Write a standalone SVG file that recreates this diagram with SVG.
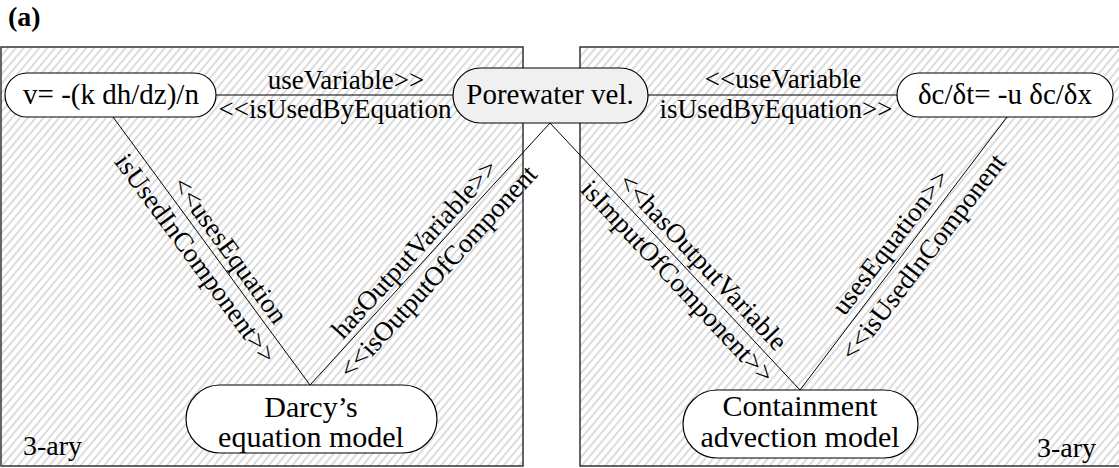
<svg xmlns="http://www.w3.org/2000/svg" width="1119" height="468" viewBox="0 0 1119 468">
<defs>
<pattern id="hatch" width="6" height="6" patternUnits="userSpaceOnUse" patternTransform="rotate(40)">
<rect width="6" height="6" fill="#fff"/>
<line x1="1" y1="0" x2="1" y2="6" stroke="#dcdcdc" stroke-width="2"/>
</pattern>
</defs>
<style>
.t{font-family:"Liberation Serif","Times New Roman",serif;fill:#000}
.lbl{font-size:27px;text-anchor:middle}
.nt{font-size:29px;text-anchor:middle}
.nt2{font-size:30px;text-anchor:middle}
.node{fill:#fff;stroke:#000;stroke-width:1.2}
.conn{stroke:#000;stroke-width:1;fill:none}
.box{fill:url(#hatch);stroke:#333;stroke-width:1.5}
</style>
<rect width="1119" height="468" fill="#fff"/>
<text class="t" x="8" y="26" font-weight="bold" font-size="28">(a)</text>
<g id="boxes">
<rect class="box" x="1" y="47" width="522" height="419"/>
<rect class="box" x="580" y="47" width="545" height="419"/>
<text class="t" x="23" y="455" font-size="28">3-ary</text>
<text class="t" x="1037" y="457" font-size="28">3-ary</text>
</g>
<g id="connectors">
<line class="conn" x1="113" y1="117" x2="310" y2="385"/>
<line class="conn" x1="310" y1="385" x2="550" y2="123"/>
<line class="conn" x1="550" y1="123" x2="800" y2="390"/>
<line class="conn" x1="800" y1="390" x2="1007" y2="117"/>
<line class="conn" x1="216" y1="95" x2="453" y2="95"/>
<line class="conn" x1="648" y1="95" x2="897" y2="95"/>
<text class="t lbl" x="346" y="89">useVariable&gt;&gt;</text>
<text class="t lbl" x="335" y="118">&lt;&lt;isUsedByEquation</text>
<text class="t lbl" x="783" y="88">&lt;&lt;useVariable</text>
<text class="t lbl" x="776" y="118">isUsedByEquation&gt;&gt;</text>
<text class="t lbl" transform="translate(218,259) rotate(53.68)" y="-6">&lt;&lt;usesEquation</text>
<text class="t lbl" transform="translate(209.5,248.3) rotate(53.68)" y="26">isUsedInComponent&gt;&gt;</text>
<text class="t lbl" transform="translate(425.5,258.9) rotate(-47.5)" y="-6">hasOutputVariable&gt;&gt;</text>
<text class="t lbl" transform="translate(424.8,259.6) rotate(-47.5)" y="27">&lt;&lt;isOutputOfComponent</text>
<text class="t lbl" transform="translate(691.4,272.8) rotate(46.67)" y="-7">&lt;&lt;hasOutputVariable</text>
<text class="t lbl" transform="translate(689.3,270.7) rotate(46.67)" y="25">isImputOfComponent&gt;&gt;</text>
<text class="t lbl" transform="translate(904,252.3) rotate(-52.52)" y="-8">usesEquation&gt;&gt;</text>
<text class="t lbl" transform="translate(908.9,246) rotate(-52.52)" y="27">&lt;&lt;isUsedInComponent</text>
</g>
<g id="node-v">
<rect class="node" x="5" y="73" width="211" height="44" rx="22"/>
<text class="t nt" x="111" y="104">v= -(k dh/dz)/n</text>
</g>
<g id="node-porewater">
<rect class="node" x="453" y="68" width="195" height="55" rx="27.5" style="fill:#f0f0f0"/>
<text class="t nt" x="550" y="104">Porewater vel.</text>
</g>
<g id="node-advection-eq">
<rect class="node" x="897" y="73" width="216" height="44" rx="22"/>
<text class="t nt" x="1005" y="104">δc/δt= -u δc/δx</text>
</g>
<g id="node-darcy">
<rect class="node" x="186" y="385" width="251" height="68" rx="34"/>
<text class="t nt2" x="311" y="417">Darcy’s</text>
<text class="t nt2" x="311" y="447">equation model</text>
</g>
<g id="node-containment">
<rect class="node" x="683" y="390" width="235" height="68" rx="34"/>
<text class="t nt2" x="800" y="416">Containment</text>
<text class="t nt2" x="800" y="447">advection model</text>
</g>
</svg>
